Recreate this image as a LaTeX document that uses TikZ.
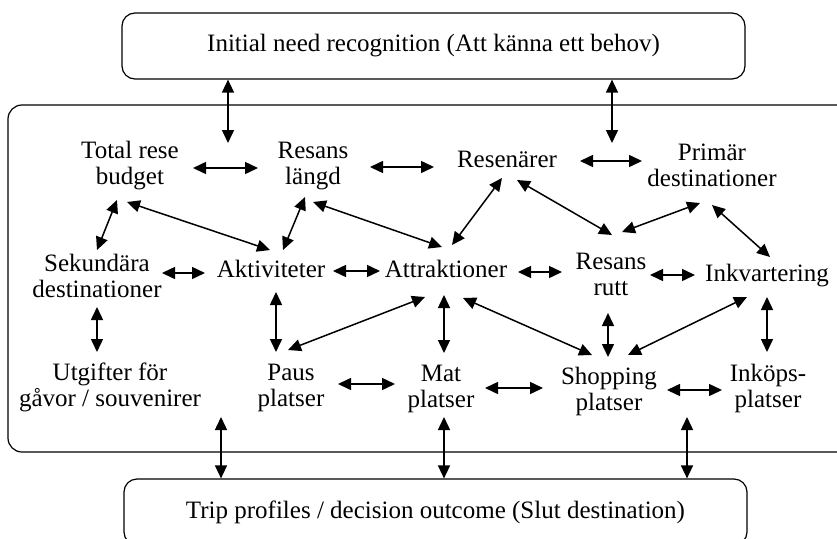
\documentclass[tikz,border=0pt]{standalone}
\usepackage{fontspec}
\setmainfont{Liberation Serif}
\usetikzlibrary{positioning, arrows.meta, calc}

\begin{document}
\begin{tikzpicture}[
  x=1pt, y=-1pt,
  font=\fontsize{25}{26}\selectfont,
  nd/.style={align=center, inner sep=0pt},
  box/.style={draw, line width=1.2pt, rounded corners=13pt, minimum width=623pt, minimum height=66pt, inner sep=0pt},
  frame/.style={draw, line width=1.2pt, rounded corners=14pt},
  arr/.style={line width=1.5pt, {Triangle[length=13pt,width=12pt]}-{Triangle[length=13pt,width=12pt]}},
]
  \useasboundingbox (0,0) rectangle (837,538);
  % Outer boxes
  \node[box] (need) at (433.5,46) {Initial need recognition (Att känna ett behov)};
  \node[frame, minimum width=852pt, minimum height=347pt] (mid) at (434,278.5) {};
  \node[box] (trip) at (435.5,512) {Trip profiles / decision outcome (Slut destination)};
  % Factors
  \node[nd] (tot) at (130,166) {Total rese\\budget};
  \node[nd] (len) at (313,166) {Resans\\längd};
  \node[nd] (ren) at (507,159) {Resenärer};
  \node[nd] (pri) at (712,165) {Primär\\destinationer};
  \node[nd] (sek) at (97,276) {Sekundära\\destinationer};
  \node[nd] (akt) at (271,269) {Aktiviteter};
  \node[nd] (atr) at (446,269) {Attraktioner};
  \node[nd] (rut) at (611,274) {Resans\\rutt};
  \node[nd] (ink) at (767,276) {Inkvartering};
  \node[nd] (utg) at (110,387) {Utgifter för\\gåvor / souvenirer};
  \node[nd] (pau) at (291,388) {Paus\\platser};
  \node[nd] (mat) at (441,389) {Mat\\platser};
  \node[nd] (sho) at (609,391) {Shopping\\platser};
  \node[nd] (inp) at (768,388) {Inköps-\\platser};
  % Links to the outer boxes
  \coordinate (inA) at (228,143);
  \coordinate (inB) at (612,143);
  \coordinate (outA) at (221,417);
  \coordinate (outB) at (444,417);
  \coordinate (outC) at (687,417);
  \draw[arr] (need.south -| inA) -- (inA);
  \draw[arr] (need.south -| inB) -- (inB);
  \foreach \c in {outA,outB,outC}
    \draw[arr] (\c) -- (trip.north -| \c);
  % Side by side
  \draw[arr] ($(tot)+(63,2)$) -- ($(len)+(-55,2)$);
  \draw[arr] ($(len)+(57,1)$) -- ($(ren)+(-73,8)$);
  \draw[arr] ($(ren)+(73,2)$) -- ($(pri)+(-70,-4)$);
  \draw[arr] ($(sek)+(65,-3)$) -- ($(akt)+(-66,4)$);
  \draw[arr] ($(akt)+(62,2)$) -- ($(atr)+(-66,2)$);
  \draw[arr] ($(atr)+(72,3)$) -- ($(rut)+(-49,-2)$);
  \draw[arr] ($(rut)+(39,1)$) -- ($(ink)+(-72,-1)$);
  \draw[arr] ($(pau)+(47,-4)$) -- ($(mat)+(-46,-5)$);
  \draw[arr] ($(mat)+(44,-1)$) -- ($(sho)+(-66,-3)$);
  \draw[arr] ($(sho)+(58,-1)$) -- ($(inp)+(-46,2)$);
  % Between rows
  \draw[arr] ($(tot)+(-13,34)$) -- ($(sek)+(0,-26)$);
  \draw[arr] ($(tot)+(-3,36)$) -- ($(akt)+(-1,-19)$);
  \draw[arr] ($(len)+(-8,31)$) -- ($(akt)+(12,-19)$);
  \draw[arr] ($(len)+(0,36)$) -- ($(atr)+(-4,-22)$);
  \draw[arr] ($(ren)+(-5,19)$) -- ($(atr)+(6,-24)$);
  \draw[arr] ($(ren)+(10,21)$) -- ($(rut)+(1,-39)$);
  \draw[arr] ($(pri)+(-12,38)$) -- ($(rut)+(11,-42)$);
  \draw[arr] ($(pri)+(0,40)$) -- ($(ink)+(3,-19)$);
  \draw[arr] ($(sek)+(0,31)$) -- ($(utg)+(-13,-35)$);
  \draw[arr] ($(akt)+(5,23)$) -- ($(pau)+(-15,-36)$);
  \draw[arr] ($(atr)+(-21,28)$) -- ($(pau)+(-3,-38)$);
  \draw[arr] ($(atr)+(-2,26)$) -- ($(mat)+(3,-36)$);
  \draw[arr] ($(atr)+(17,29)$) -- ($(sho)+(-17,-36)$);
  \draw[arr] ($(rut)+(-3,39)$) -- ($(sho)+(-1,-34)$);
  \draw[arr] ($(ink)+(-20,21)$) -- ($(sho)+(19,-36)$);
  \draw[arr] ($(ink)+(0,21)$) -- ($(inp)+(-1,-36)$);
\end{tikzpicture}
\end{document}
